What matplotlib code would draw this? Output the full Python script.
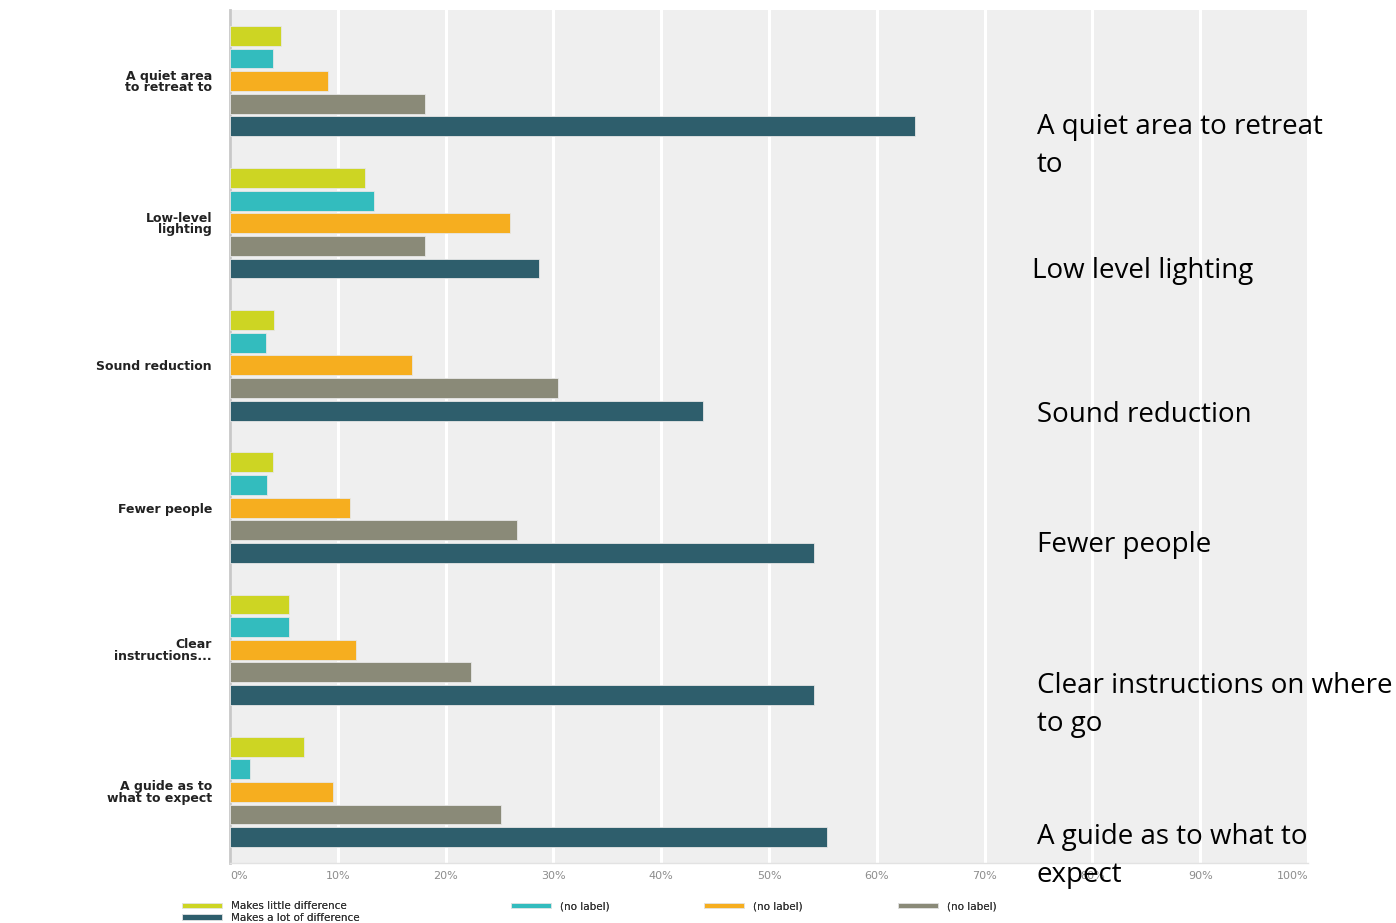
import numpy as np
import matplotlib
matplotlib.use("Agg")
import matplotlib.pyplot as plt

categories = ["A quiet area\nto retreat to", "Low-level\nlighting", "Sound reduction",
              "Fewer people", "Clear\ninstructions...", "A guide as to\nwhat to expect"]
series_names = ["Makes little difference", "(no label)", "(no label)", "(no label)",
                "Makes a lot of difference"]
little_diff = [4.7, 12.5, 4.1, 4.0, 5.5, 6.9]
teal_vals = [4.0, 13.4, 3.3, 3.4, 5.5, 1.9]
orange_vals = [9.1, 26.0, 16.9, 11.1, 11.7, 9.6]
gray_vals = [18.1, 18.1, 30.4, 26.6, 22.4, 25.1]
lot_diff = [63.5, 28.7, 43.9, 54.2, 54.2, 55.4]
x_ticks = list(range(0, 101, 10))
x_ticklabels = [f"{t}%" for t in x_ticks]
overlay_labels = ["A quiet area to retreat\nto", "Low level lighting", "Sound reduction",
                  "Fewer people", "Clear instructions on where\nto go", "A guide as to what to\nexpect"]

colors = ["#cdd523", "#33bcbe", "#f6ae1f", "#8a8a78", "#2e5e6c"]
all_vals = [little_diff, teal_vals, orange_vals, gray_vals, lot_diff]

W, H = 1396, 923
fig = plt.figure(figsize=(W/100, H/100), dpi=100)
ax = fig.add_axes([230/W, 1 - 863/H, (1308 - 230)/W, (863 - 10)/H])
ax.set_facecolor("#efefef")

y = np.arange(len(categories))
pitch = 0.159
handles = []
for i, (vals, col) in enumerate(zip(all_vals, colors)):
    b = ax.barh(y + (i - 2) * pitch, vals, height=0.14, color=col,
                edgecolor="#e6e6e6", linewidth=0.6, label=series_names[i], zorder=3)
    handles.append(b)

ax.set_xlim(0, 100)
ax.set_ylim(5.5, -0.5)
ax.set_xticks(x_ticks)
ax.set_xticklabels(x_ticklabels, fontsize=8, color="#8c8c8c")
for i, lab in enumerate(ax.get_xticklabels()):
    if i == 0:
        lab.set_ha("left")
    elif i == len(x_ticks) - 1:
        lab.set_ha("right")
ax.set_yticks(y)
ax.set_yticklabels(categories, fontsize=9, fontweight="bold", color="#222222",
                   linespacing=0.85)
ax.tick_params(axis="both", length=0)
ax.tick_params(axis="x", pad=6)
ax.tick_params(axis="y", pad=13)
ax.grid(axis="x", color="white", linewidth=2.2, zorder=0)
ax.set_axisbelow(True)
for s in ["top", "right"]:
    ax.spines[s].set_visible(False)
ax.spines["left"].set_color("#c8c8c8")
ax.spines["left"].set_linewidth(2)
ax.spines["bottom"].set_color("#e2e2e2")
ax.spines["bottom"].set_linewidth(1)

# legend built column by column so each column sits where the original has it
leg_cols = [([0, 4], 177), ([1], 506), ([2], 699), ([3], 893)]
for idx, px in leg_cols:
    leg = fig.legend([handles[k] for k in idx], [series_names[k] for k in idx],
                     loc="upper left", bbox_to_anchor=(px/W, 1 - 896/H),
                     frameon=False, fontsize=7.5, handlelength=3.8, handleheight=0.45,
                     handletextpad=0.9, labelspacing=0.15, labelcolor="#333333",
                     borderpad=0.0)
    fig.add_artist(leg)

# overlay labels on the right, one text per line (line pitch ~38 px)
overlay_pos = [(1037, 127), (1032, 271), (1037, 415), (1037, 545), (1037, 686), (1037, 837)]
for txt, (px, py) in zip(overlay_labels, overlay_pos):
    for k, line in enumerate(txt.split("\n")):
        fig.text(px/W, 1 - (py + 38*k)/H, line, fontsize=20, family="Open Sans",
                 ha="left", va="center", color="black")

fig.savefig("out.png", dpi=100)
